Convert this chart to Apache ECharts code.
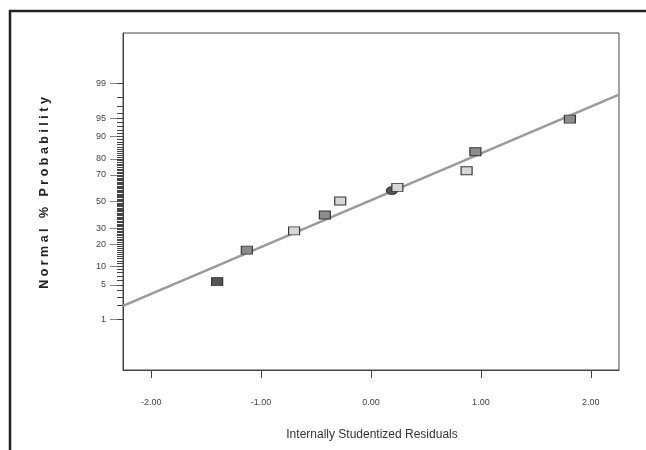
<!DOCTYPE html>
<html>
<head>
<meta charset="utf-8">
<script src="https://cdn.jsdelivr.net/npm/echarts@6/dist/echarts.min.js"></script>
<style>
html,body{margin:0;padding:0;background:#fff;}
#chart{width:646px;height:450px;}
</style>
</head>
<body>
<div id="chart"></div>
<script>
// ---- data ----
const residuals     = [-1.40, -1.13, -0.70, -0.42, -0.28, 0.19, 0.24, 0.87, 0.95, 1.81];
const probabilities = [5.7, 16.9, 28.1, 39.5, 50.4, 58.5, 61.0, 72.8, 83.7, 94.8];
const responseLevel = [0, 1, 2, 1, 2, 0, 2, 2, 1, 1]; // 0 = low, 1 = mid, 2 = high
const pointIsCircle = [false, false, false, false, false, true, false, false, false, false];
const lineX = [-2.257, 2.257];
const lineP = [1.97, 98.26];
const xTicks = [-2, -1, 0, 1, 2];
const yTickLabels = [1, 5, 10, 20, 30, 50, 70, 80, 90, 95, 99];
const yMinorTicks = [];
for (let i = 1; i <= 99; i++) yMinorTicks.push(i);

// ---- probability scale (inverse normal CDF) ----
function probit(p) {
  const a = [-3.969683028665376e+01, 2.209460984245205e+02, -2.759285104469687e+02, 1.383577518672690e+02, -3.066479806614716e+01, 2.506628277459239e+00];
  const b = [-5.447609879822406e+01, 1.615858368580409e+02, -1.556989798598866e+02, 6.680131188771972e+01, -1.328068155288572e+01];
  const c = [-7.784894002430293e-03, -3.223964580411365e-01, -2.400758277161838e+00, -2.549732539343734e+00, 4.374664141464968e+00, 2.938163982698783e+00];
  const d = [7.784695709041462e-03, 3.224671290700398e-01, 2.445134137142996e+00, 3.754408460458187e+00];
  const plow = 0.02425, phigh = 1 - plow;
  let q, r;
  if (p < plow) {
    q = Math.sqrt(-2 * Math.log(p));
    return (((((c[0]*q+c[1])*q+c[2])*q+c[3])*q+c[4])*q+c[5]) / ((((d[0]*q+d[1])*q+d[2])*q+d[3])*q+1);
  } else if (p <= phigh) {
    q = p - 0.5; r = q*q;
    return (((((a[0]*r+a[1])*r+a[2])*r+a[3])*r+a[4])*r+a[5])*q / (((((b[0]*r+b[1])*r+b[2])*r+b[3])*r+b[4])*r+1);
  } else {
    q = Math.sqrt(-2 * Math.log(1 - p));
    return -(((((c[0]*q+c[1])*q+c[2])*q+c[3])*q+c[4])*q+c[5]) / ((((d[0]*q+d[1])*q+d[2])*q+d[3])*q+1);
  }
}
const pz = v => probit(v / 100);

const Y_MIN = -3.325, Y_MAX = 3.325;
const X_MIN = -2.257, X_MAX = 2.257;

const levelColors = ['#555555', '#8c8c8c', '#d6d6d6'];

function pointsFor(level, circle) {
  const out = [];
  for (let i = 0; i < residuals.length; i++) {
    if (responseLevel[i] === level && pointIsCircle[i] === circle) {
      out.push([residuals[i], pz(probabilities[i])]);
    }
  }
  return out;
}

const chart = echarts.init(document.getElementById('chart'), null, {renderer: 'canvas'});
const font = 'Liberation Sans, Arial, sans-serif';

const markerSeries = [];
[0, 1, 2].forEach(lv => {
  [true, false].forEach(circ => {
    const d = pointsFor(lv, circ);
    if (!d.length) return;
    markerSeries.push({
      type: 'scatter',
      data: d,
      symbol: circ ? 'circle' : 'rect',
      symbolSize: [11, 8],
      z: circ ? 3 : 4,
      itemStyle: {color: levelColors[lv], borderColor: '#333', borderWidth: 1, opacity: 1},
      emphasis: {disabled: true},
      animation: false
    });
  });
});

const option = {
  animation: false,
  backgroundColor: '#fff',
  grid: {left: 123, top: 33, width: 496, height: 337, show: true, borderColor: '#444', borderWidth: 1, containLabel: false},
  xAxis: {
    type: 'value', min: X_MIN, max: X_MAX,
    axisLine: {show: true, onZero: false, lineStyle: {color: '#444', width: 1}},
    axisTick: {show: true, customValues: xTicks, length: 8, lineStyle: {color: '#444', width: 1}},
    axisLabel: {customValues: xTicks, formatter: v => v.toFixed(2), fontSize: 9, color: '#444', fontFamily: font, margin: 28, showMinLabel: true, showMaxLabel: true},
    splitLine: {show: false}
  },
  yAxis: [
    {
      type: 'value', min: Y_MIN, max: Y_MAX, position: 'left',
      axisLine: {show: true, onZero: false, lineStyle: {color: '#444', width: 1}},
      axisTick: {show: true, customValues: yTickLabels.map(pz), length: 13, lineStyle: {color: '#888', width: 1}},
      axisLabel: {
        customValues: yTickLabels.map(pz),
        formatter: v => { const t = yTickLabels.find(t => Math.abs(pz(t) - v) < 1e-6); return t === undefined ? '' : String(t); },
        fontSize: 9, color: '#444', fontFamily: font, margin: 17
      },
      splitLine: {show: false}
    },
    {
      type: 'value', min: Y_MIN, max: Y_MAX, position: 'left', offset: 0,
      axisLine: {show: false, onZero: false},
      axisTick: {show: true, customValues: yMinorTicks.map(pz), length: 6, lineStyle: {color: '#444', width: 1}},
      axisLabel: {show: false},
      splitLine: {show: false}
    }
  ],
  series: [
    {
      type: 'line',
      data: lineX.map((x, i) => [x, pz(lineP[i])]),
      symbol: 'none',
      lineStyle: {color: '#9a9a9a', width: 2.5},
      z: 2,
      emphasis: {disabled: true},
      animation: false
    }
  ].concat(markerSeries),
  graphic: [
    {
      type: 'polyline', silent: true,
      shape: {points: [[10, 450], [10, 11], [646, 11]]},
      style: {stroke: '#222', lineWidth: 2.5, fill: null}
    },
    {
      type: 'text', x: 45, y: 193, rotation: Math.PI / 2, silent: true,
      style: {text: 'N o r m a l   %   P r o b a b i l i t y', fontSize: 12.5, fontWeight: 'bold', fill: '#222', fontFamily: font, textAlign: 'center', textVerticalAlign: 'middle'}
    },
    {
      type: 'text', x: 372, y: 435, silent: true,
      style: {text: 'Internally Studentized Residuals', fontSize: 12, fill: '#333', fontFamily: font, textAlign: 'center', textVerticalAlign: 'middle'}
    }
  ]
};
chart.setOption(option);
</script>
</body>
</html>
